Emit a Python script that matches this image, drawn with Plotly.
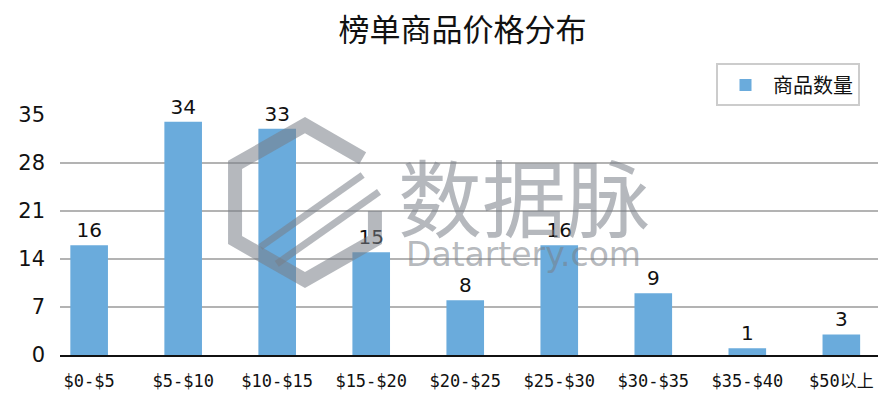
import plotly.graph_objects as go

categories = ["$0-$5", "$5-$10", "$10-$15", "$15-$20", "$20-$25",
              "$25-$30", "$30-$35", "$35-$40", "$50以上"]
counts = [16, 34, 33, 15, 8, 16, 9, 1, 3]
y_ticks = [0, 7, 14, 21, 28, 35]

BAR = "#6aabdc"
CJK = "Noto Sans CJK SC"

fig = go.Figure()
fig.add_bar(
    x=categories, y=counts, name="商品数量",
    marker=dict(color=BAR, line=dict(width=0)),
    width=0.40,
    text=counts, textposition="outside", cliponaxis=False,
    textfont=dict(family="DejaVu Sans", size=20, color="#111"),
)

# watermark (logo + text)
wm = "rgba(120,126,134,0.55)"
fig.add_annotation(text="数据脉", xref="paper", yref="paper", x=0.567, y=0.667,
                   xanchor="center", yanchor="middle",
                   showarrow=False, font=dict(family=CJK, size=84, color=wm))
fig.add_annotation(text="Datartery.com", xref="paper", yref="paper", x=0.567, y=0.42,
                   xanchor="center", yanchor="middle",
                   showarrow=False, font=dict(family="DejaVu Sans", size=33, color=wm))
fig.add_shape(type="path", xref="paper", yref="paper",
              path="M 0.385 0.60 L 0.385 0.479 L 0.2995 0.3125 L 0.214 0.479 "
                   "L 0.214 0.792 L 0.2995 0.958 L 0.37 0.82",
              line=dict(color=wm, width=14), layer="above")
fig.add_shape(type="path", xref="paper", yref="paper",
              path="M 0.245 0.45 L 0.37 0.75",
              line=dict(color=wm, width=7), layer="above")
fig.add_shape(type="path", xref="paper", yref="paper",
              path="M 0.265 0.38 L 0.39 0.68",
              line=dict(color=wm, width=7), layer="above")

fig.update_layout(
    width=893, height=406,
    margin=dict(l=60, r=15, t=115, b=51, autoexpand=False),
    paper_bgcolor="white", plot_bgcolor="white",
    title=dict(text="榜单商品价格分布", x=0.518, xanchor="center", y=0.925, yanchor="middle",
               font=dict(family=CJK, size=31, color="#111")),
    font=dict(family="DejaVu Sans", color="#111"),
    showlegend=True,
    legend=dict(x=0.978, xanchor="right", y=1.215, yanchor="top",
                bordercolor="#cccccc", borderwidth=2, bgcolor="white",
                itemwidth=45,
                font=dict(family=CJK, size=20, color="#111")),
    bargap=0.6,
    xaxis=dict(range=[-0.31, 8.39], showgrid=False, ticks="", automargin=False,
               showline=True, linecolor="#111", linewidth=2, ticklabelstandoff=10,
               tickfont=dict(family="DejaVu Sans Mono, Noto Sans CJK SC", size=17, color="#111")),
    yaxis=dict(range=[0, 35], tickvals=y_ticks, showgrid=True, gridcolor="#b3b3b3",
               gridwidth=2, zeroline=False, showline=False, ticks="", automargin=False,
               ticklabelstandoff=14,
               tickfont=dict(family="DejaVu Sans", size=21, color="#111")),
)

fig.write_html("out.html", config={"displayModeBar": False},
               post_script="document.body.style.margin='0';")
